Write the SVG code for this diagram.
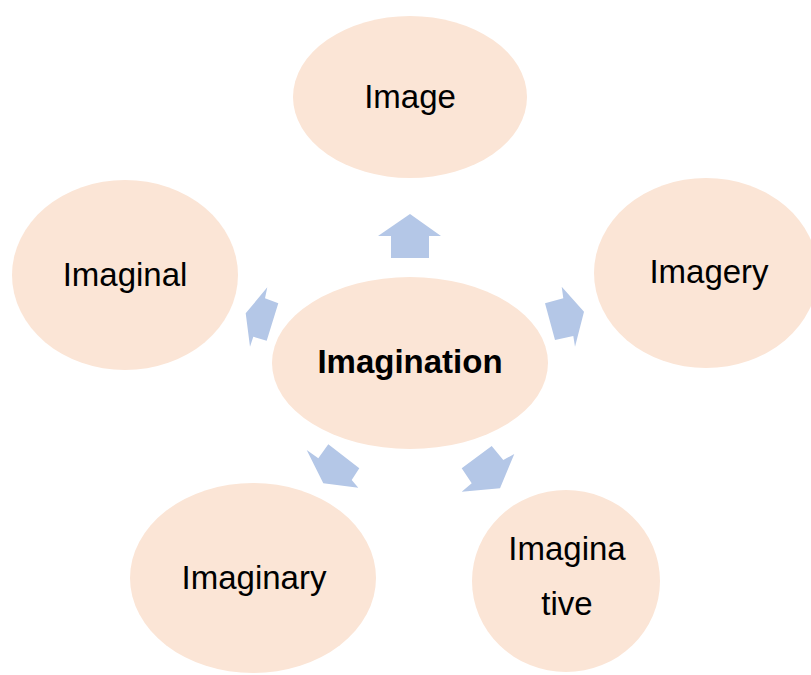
<svg xmlns="http://www.w3.org/2000/svg" width="811" height="675" viewBox="0 0 811 675">
<style>
.n{fill:#FBE5D6;}
.a{fill:#B4C7E7;}
.t{font-family:"Liberation Sans",Arial,sans-serif;font-size:33px;fill:#000;text-anchor:middle;}
.b{font-weight:bold;}
</style>
<rect width="811" height="675" fill="#fff"/>
<g id="image"><ellipse class="n" cx="410" cy="97" rx="117" ry="81"/><text class="t" x="410" y="108">Image</text></g>
<g id="imaginal"><ellipse class="n" cx="125" cy="275" rx="113" ry="95"/><text class="t" x="125" y="286">Imaginal</text></g>
<g id="imagery"><ellipse class="n" cx="706" cy="273" rx="112" ry="95"/><text class="t" x="709" y="283">Imagery</text></g>
<g id="imaginary"><ellipse class="n" cx="253" cy="578" rx="123" ry="95"/><text class="t" x="254" y="589">Imaginary</text></g>
<g id="imaginative"><ellipse class="n" cx="566" cy="581" rx="94" ry="91"/><text class="t" x="567" y="560">Imagina</text><text class="t" x="567" y="615">tive</text></g>
<g id="connectors">
<polygon class="a" points="410,214 441,236 429,236 429,258 391,258 391,236 378,236"/>
<polygon class="a" points="267.3,287.3 265,298.3 278.3,303.3 266.7,340.7 253.3,336.7 250,346.7 245.7,313.3"/>
<polygon class="a" points="561.7,286.7 563.3,298.3 545,303.3 555,340 573.3,336 575,346.7 584,311.7"/>
<polygon class="a" points="306.7,450 318.3,458.3 328.3,444.3 359.3,468.3 351.7,480 358.3,487.7 323.3,483.3"/>
<polygon class="a" points="461.7,468.3 491.7,446 503.3,460 514.3,454 500,488.3 461.7,491.7 471.7,483.3"/>
</g>
<g id="imagination"><ellipse class="n" cx="410" cy="363" rx="138" ry="86"/><text class="t b" x="410" y="373">Imagination</text></g>
</svg>
